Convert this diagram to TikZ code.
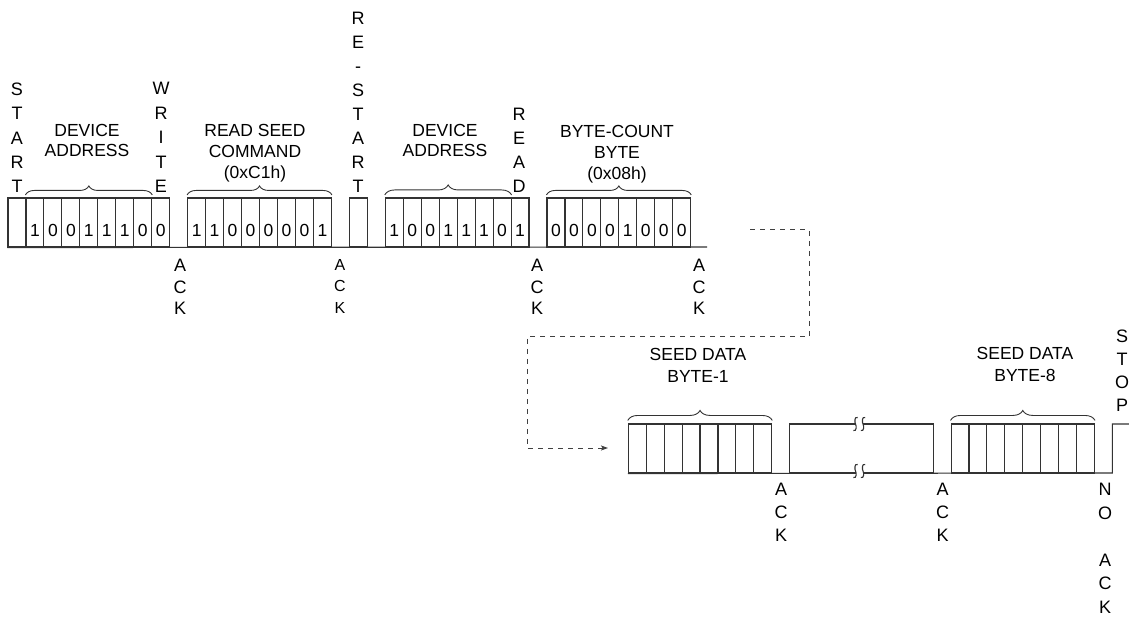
\documentclass[tikz,border=0pt]{standalone}
\usepackage{fontspec}
\setmainfont{Liberation Sans}
\usetikzlibrary{decorations.pathreplacing,arrows.meta}
\def\cellw{17.966}
\def\cellb{17.93}
\def\xb{628.3}
\newcommand\brkmark[2]{\draw[sig] (#1+2.2,#2-6.5) .. controls (#1-1.2,#2-8) and (#1-1,#2-1.5) .. (#1,#2) .. controls (#1+1,#2+1.5) and (#1+1.2,#2+8) .. (#1-2.2,#2+6.5);}
\begin{document}
\begin{tikzpicture}[x=1pt,y=-1pt,
  sig/.style={draw=black!80, line width=1.1pt},
  cell/.style={sig, minimum width=\cellw pt, minimum height=49pt, inner sep=0pt, text height=28pt, text depth=0pt, font=\fontsize{17.5}{20}\selectfont},
  cellb/.style={cell, minimum width=\cellb pt},
  hlab/.style={anchor=north, inner sep=0pt, align=center, font=\fontsize{17.5}{#1}\selectfont},
  vlab/.style={anchor=north, inner sep=0pt, align=center, font=\fontsize{18}{#1}\selectfont},
  vlabs/.style={anchor=north, inner sep=0pt, align=center, font=\fontsize{16}{#1}\selectfont},
  brc/.style={draw=black!80, line width=0.9pt, decorate, decoration={brace, amplitude=#1}},
  dashconn/.style={draw=black!75, line width=1pt, dash pattern=on 5pt off 5pt, -{Stealth[length=7pt,width=5pt,inset=1.5pt]}}
]
\useasboundingbox (0,0) rectangle (1129,617);

% ---------- top row ----------
\node[cell] (s0) at ({8+0.5*\cellw},222.5) {};
\foreach \d [count=\i] in {1,0,0,1,1,1,0,0}
  \node[cell] (a\i) at ({8+(\i+0.5)*\cellw},222.5) {\d};
\foreach \d [count=\i] in {1,1,0,0,0,0,0,1}
  \node[cell] (r\i) at ({8+(\i+9.5)*\cellw},222.5) {\d};
\node[cell] (rs) at ({8+19.5*\cellw},222.5) {};
\foreach \d [count=\i] in {1,0,0,1,1,1,0,1}
  \node[cell] (b\i) at ({8+(\i+20.5)*\cellw},222.5) {\d};
\foreach \d [count=\i] in {0,0,0,0,1,0,0,0}
  \node[cell] (c\i) at ({8+(\i+29.5)*\cellw},222.5) {\d};
\coordinate (topend) at (707,247);
\draw[sig] (s0.south west) -- (topend);

% braces top
\draw[brc=9pt] ([yshift=2.5pt]a1.north west) -- ([yshift=2.5pt]a7.north east);
\draw[brc=9pt] ([yshift=2.5pt]r1.north west) -- ([yshift=2.5pt]r8.north east);
\draw[brc=10pt] ([yshift=2.5pt]b1.north west) -- ([yshift=2.5pt]b7.north east);
\draw[brc=9pt] ([yshift=2.5pt]c1.north west) -- ([yshift=2.5pt]c8.north east);

% labels top
\node[hlab=20.5] (lda1) at (87,124) {DEVICE\\ADDRESS};
\node[hlab=21] (lrs) at (255,124) {READ SEED\\COMMAND\\(0xC1h)};
\node[hlab=20.5] (lda2) at (445,124) {DEVICE\\ADDRESS};
\node[hlab=21] (lbc) at (617,125) {BYTE-COUNT\\BYTE\\(0x08h)};

\node[vlab=24.2] (lstart) at (17,83) {S\\T\\A\\R\\T};
\node[vlab=24.5] (lwrite) at (161,82) {W\\R\\I\\T\\E};
\node[vlab=24.05] (lrestart) at (358,11.7) {R\\E\\-\\S\\T\\A\\R\\T};
\node[vlab=23.9] (lread) at (519,108.3) {R\\E\\A\\D};

\node[vlab=21.7] (ack1) at (180,259) {A\\C\\K};
\node[vlabs=21.7] (ack2) at (340,259) {A\\C\\K};
\node[vlab=21.7] (ack3) at (537,259) {A\\C\\K};
\node[vlab=21.7] (ack4) at (699,259) {A\\C\\K};

% ---------- bottom row ----------
\foreach \i in {1,...,8}
  \node[cellb] (e\i) at ({\xb+(\i-0.5)*\cellb},448.5) {};
\node[cellb, minimum width={8*\cellb pt}] (gapbox) at ({\xb+13*\cellb},448.5) {};
\foreach \i in {1,...,8}
  \node[cellb] (f\i) at ({\xb+(\i+17.5)*\cellb},448.5) {};
\coordinate (riseb) at ({\xb+27*\cellb},473);
\coordinate (riset) at ({\xb+27*\cellb},424);
\coordinate (botend) at (1129,424);
\draw[sig] (e1.south west) -- (riseb) -- (riset) -- (botend);

% break marks
\fill[white] (855.6,420) rectangle (862.9,428);
\fill[white] (855.6,469) rectangle (862.9,477);
\brkmark{855.5}{424}
\brkmark{863}{424}
\brkmark{855.5}{471}
\brkmark{863}{471}

% braces bottom
\draw[brc=10pt] ([yshift=3pt]e1.north west) -- ([yshift=3pt]e8.north east);
\draw[brc=10pt] ([yshift=3pt]f1.north west) -- ([yshift=3pt]f8.north east);

\node[hlab=22] (lsd1) at (698,348) {SEED DATA\\BYTE-1};
\node[hlab=22] (lsd8) at (1025,347) {SEED DATA\\BYTE-8};

\node[vlab=22.8] (ack5) at (781,483) {A\\C\\K};
\node[vlab=22.8] (ack6) at (942.7,483) {A\\C\\K};
\node[vlab=23.6] (nack) at (1105,483) {N\\O\\[23.6pt]A\\C\\K};
\node[vlab=22.8] (lstop) at (1122,330) {S\\T\\O\\P};

% dashed continuation
\coordinate (dA) at (750,230);
\coordinate (dB) at (608,448);
\draw[dashconn] (dA) -| (809,337) -| (527,448) -- (dB);
\end{tikzpicture}
\end{document}
